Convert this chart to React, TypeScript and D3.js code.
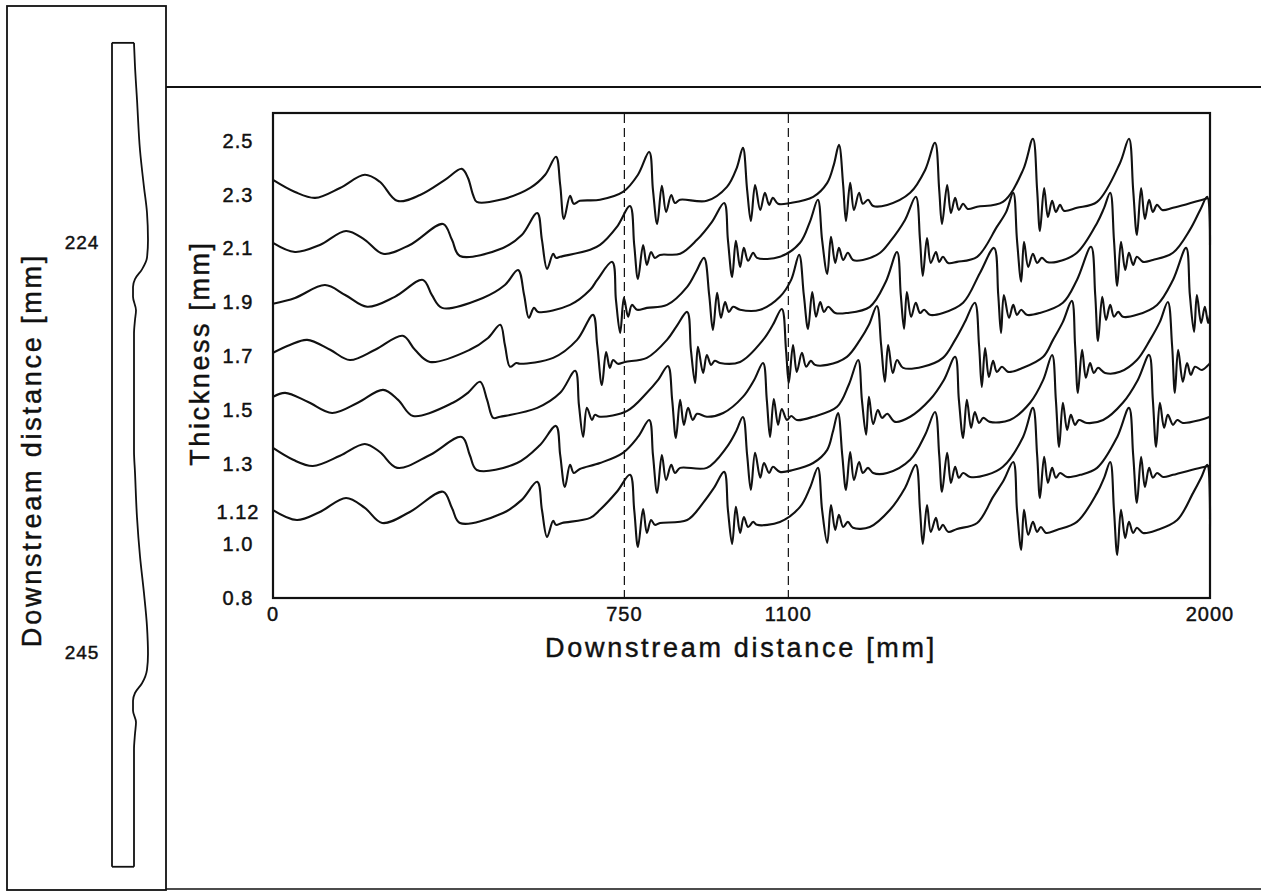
import * as d3 from "d3";

// film thickness traces (mm) along downstream distance (mm)
const Y_TICKS = [0.8, 1.0, 1.12, 1.3, 1.5, 1.7, 1.9, 2.1, 2.3, 2.5];
const Y_TICK_LABELS = ["0.8", "1.0", "1.12", "1.3", "1.5", "1.7", "1.9", "2.1", "2.3", "2.5"];
const X_TICKS = [0, 750, 1100, 2000];
const DASHED_AT = [750, 1100];

const TRACE_230: [number, number][] = [
  [0, 2.355], [47, 2.31], [90, 2.288], [143, 2.325], [196, 2.374], [228, 2.348], [265, 2.277], [314, 2.299],
  [367, 2.355], [403, 2.396], [416, 2.363], [427, 2.299], [435, 2.273], [485, 2.281], [549, 2.325], [581, 2.374],
  [604, 2.441], [613, 2.336], [621, 2.21], [634, 2.296], [642, 2.266], [655, 2.277], [698, 2.281], [747, 2.31],
  [779, 2.374], [803, 2.459], [811, 2.318], [820, 2.191], [830, 2.333], [839, 2.236], [850, 2.299], [858, 2.269],
  [869, 2.281], [926, 2.277], [969, 2.329], [990, 2.4], [1003, 2.474], [1012, 2.318], [1020, 2.202], [1029, 2.336],
  [1040, 2.243], [1050, 2.307], [1059, 2.262], [1067, 2.288], [1078, 2.266], [1104, 2.269], [1153, 2.292], [1183, 2.344],
  [1197, 2.411], [1208, 2.485], [1217, 2.336], [1223, 2.202], [1232, 2.344], [1240, 2.243], [1251, 2.307], [1259, 2.266],
  [1270, 2.281], [1281, 2.258], [1311, 2.262], [1360, 2.307], [1392, 2.392], [1413, 2.493], [1422, 2.318], [1428, 2.191],
  [1439, 2.336], [1447, 2.232], [1456, 2.288], [1464, 2.243], [1473, 2.266], [1483, 2.247], [1503, 2.255], [1558, 2.273],
  [1601, 2.392], [1622, 2.508], [1631, 2.318], [1637, 2.165], [1646, 2.325], [1654, 2.217], [1663, 2.277], [1671, 2.236],
  [1680, 2.262], [1688, 2.24], [1716, 2.251], [1759, 2.273], [1808, 2.418], [1827, 2.508], [1836, 2.318], [1844, 2.15],
  [1853, 2.325], [1861, 2.21], [1870, 2.281], [1878, 2.236], [1887, 2.262], [1898, 2.243], [1921, 2.251], [1996, 2.288],
];

const TRACE_210: [number, number][] = [
  [0, 2.121], [47, 2.087], [100, 2.113], [156, 2.165], [196, 2.132], [235, 2.08], [292, 2.113], [363, 2.191],
  [382, 2.132], [399, 2.072], [491, 2.102], [531, 2.15], [564, 2.232], [574, 2.132], [585, 2.024], [598, 2.08],
  [604, 2.065], [613, 2.069], [677, 2.095], [698, 2.113], [734, 2.18], [762, 2.258], [771, 2.113], [779, 1.987],
  [790, 2.113], [798, 2.039], [807, 2.087], [815, 2.065], [826, 2.076], [869, 2.08], [905, 2.132], [937, 2.199],
  [963, 2.269], [971, 2.132], [980, 1.994], [988, 2.128], [997, 2.031], [1005, 2.102], [1014, 2.054], [1025, 2.084],
  [1033, 2.065], [1082, 2.069], [1125, 2.121], [1146, 2.199], [1163, 2.281], [1172, 2.132], [1183, 2.005], [1191, 2.143],
  [1200, 2.046], [1208, 2.102], [1217, 2.057], [1227, 2.084], [1238, 2.057], [1259, 2.057], [1296, 2.084], [1317, 2.125],
  [1349, 2.206], [1372, 2.292], [1381, 2.132], [1387, 1.998], [1396, 2.139], [1404, 2.046], [1415, 2.087], [1422, 2.05],
  [1430, 2.069], [1441, 2.046], [1460, 2.05], [1503, 2.069], [1545, 2.18], [1565, 2.236], [1580, 2.307], [1588, 2.132],
  [1597, 1.976], [1603, 2.125], [1612, 2.031], [1622, 2.08], [1631, 2.046], [1641, 2.065], [1652, 2.05], [1673, 2.05],
  [1716, 2.084], [1759, 2.195], [1774, 2.251], [1787, 2.307], [1795, 2.132], [1802, 1.961], [1810, 2.125], [1819, 2.02],
  [1827, 2.084], [1836, 2.039], [1844, 2.069], [1857, 2.05], [1878, 2.057], [1921, 2.084], [1957, 2.169], [1979, 2.243],
  [1994, 2.292], [2000, 2.113],
];

const TRACE_190: [number, number][] = [
  [0, 1.894], [47, 1.916], [111, 1.964], [154, 1.927], [201, 1.883], [260, 1.92], [320, 1.983], [339, 1.927],
  [361, 1.879], [448, 1.916], [495, 1.964], [523, 2.02], [536, 1.927], [546, 1.842], [557, 1.879], [566, 1.864],
  [634, 1.89], [677, 1.946], [692, 1.983], [724, 2.05], [732, 1.909], [741, 1.786], [749, 1.916], [758, 1.846],
  [766, 1.89], [777, 1.872], [798, 1.879], [841, 1.89], [884, 1.957], [903, 2.013], [920, 2.065], [931, 1.927],
  [939, 1.797], [948, 1.935], [956, 1.842], [965, 1.901], [973, 1.864], [982, 1.883], [997, 1.872], [1040, 1.872],
  [1082, 1.92], [1106, 1.983], [1123, 2.076], [1133, 1.927], [1142, 1.801], [1151, 1.938], [1159, 1.846], [1168, 1.901],
  [1176, 1.864], [1185, 1.883], [1200, 1.86], [1225, 1.86], [1274, 1.883], [1308, 1.976], [1332, 2.087], [1340, 1.927],
  [1347, 1.801], [1353, 1.938], [1362, 1.846], [1372, 1.898], [1381, 1.86], [1390, 1.872], [1402, 1.853], [1430, 1.86],
  [1473, 1.898], [1509, 2.009], [1539, 2.102], [1548, 1.927], [1554, 1.786], [1560, 1.927], [1571, 1.842], [1580, 1.89],
  [1588, 1.853], [1597, 1.872], [1609, 1.853], [1637, 1.86], [1686, 1.898], [1716, 1.983], [1746, 2.106], [1755, 1.927],
  [1761, 1.756], [1770, 1.92], [1778, 1.834], [1787, 1.89], [1795, 1.846], [1804, 1.864], [1814, 1.846], [1844, 1.853],
  [1887, 1.89], [1921, 1.983], [1949, 2.102], [1957, 1.927], [1966, 1.79], [1972, 1.927], [1981, 1.823], [1989, 1.883],
  [1996, 1.823], [2000, 1.853],
];

const TRACE_170: [number, number][] = [
  [0, 1.712], [36, 1.741], [73, 1.76], [122, 1.723], [164, 1.685], [218, 1.723], [277, 1.775], [303, 1.723],
  [335, 1.678], [420, 1.723], [459, 1.767], [485, 1.816], [495, 1.741], [506, 1.66], [519, 1.674], [527, 1.671],
  [598, 1.693], [649, 1.76], [683, 1.853], [692, 1.741], [702, 1.592], [711, 1.715], [719, 1.656], [726, 1.685],
  [736, 1.671], [751, 1.678], [798, 1.693], [841, 1.76], [862, 1.812], [884, 1.864], [892, 1.723], [901, 1.6],
  [907, 1.734], [918, 1.637], [926, 1.704], [935, 1.667], [943, 1.682], [954, 1.674], [997, 1.678], [1046, 1.76],
  [1067, 1.816], [1086, 1.875], [1095, 1.723], [1101, 1.6], [1110, 1.741], [1118, 1.641], [1129, 1.712], [1138, 1.66],
  [1148, 1.682], [1157, 1.667], [1183, 1.667], [1225, 1.697], [1253, 1.76], [1272, 1.816], [1289, 1.886], [1298, 1.741],
  [1306, 1.604], [1313, 1.741], [1323, 1.637], [1332, 1.685], [1345, 1.656], [1387, 1.66], [1430, 1.693], [1456, 1.76],
  [1477, 1.827], [1498, 1.898], [1507, 1.741], [1513, 1.585], [1520, 1.73], [1528, 1.622], [1537, 1.682], [1545, 1.641],
  [1556, 1.66], [1569, 1.641], [1601, 1.656], [1644, 1.697], [1665, 1.76], [1686, 1.827], [1705, 1.905], [1712, 1.741],
  [1718, 1.563], [1727, 1.723], [1735, 1.619], [1744, 1.674], [1752, 1.637], [1761, 1.656], [1776, 1.637], [1808, 1.641],
  [1844, 1.685], [1872, 1.76], [1893, 1.827], [1910, 1.901], [1919, 1.741], [1925, 1.563], [1932, 1.723], [1942, 1.604],
  [1951, 1.674], [1959, 1.63], [1968, 1.66], [1983, 1.648], [2000, 1.674],
];

const TRACE_150: [number, number][] = [
  [0, 1.548], [26, 1.563], [75, 1.529], [126, 1.488], [181, 1.526], [235, 1.574], [267, 1.537], [299, 1.477],
  [384, 1.526], [416, 1.563], [442, 1.604], [457, 1.537], [470, 1.47], [485, 1.474], [564, 1.507], [613, 1.563],
  [645, 1.645], [653, 1.518], [662, 1.399], [670, 1.507], [681, 1.462], [687, 1.481], [698, 1.474], [756, 1.496],
  [798, 1.563], [822, 1.611], [843, 1.663], [852, 1.537], [860, 1.395], [869, 1.537], [877, 1.444], [886, 1.507],
  [896, 1.462], [905, 1.485], [926, 1.474], [961, 1.488], [1003, 1.548], [1027, 1.611], [1046, 1.674], [1054, 1.537],
  [1061, 1.399], [1069, 1.54], [1078, 1.444], [1086, 1.503], [1097, 1.462], [1106, 1.477], [1118, 1.462], [1153, 1.474],
  [1204, 1.511], [1229, 1.593], [1249, 1.685], [1257, 1.537], [1266, 1.407], [1272, 1.548], [1281, 1.447], [1291, 1.499],
  [1300, 1.47], [1311, 1.485], [1328, 1.455], [1360, 1.474], [1402, 1.537], [1432, 1.611], [1456, 1.697], [1464, 1.537],
  [1473, 1.395], [1481, 1.537], [1490, 1.433], [1498, 1.492], [1507, 1.451], [1516, 1.47], [1530, 1.455], [1573, 1.462],
  [1616, 1.526], [1644, 1.611], [1663, 1.704], [1671, 1.537], [1678, 1.362], [1686, 1.526], [1695, 1.425], [1703, 1.481],
  [1712, 1.444], [1720, 1.462], [1737, 1.451], [1772, 1.462], [1814, 1.526], [1846, 1.611], [1870, 1.704], [1878, 1.537],
  [1885, 1.362], [1893, 1.526], [1902, 1.433], [1910, 1.481], [1921, 1.444], [1930, 1.462], [1942, 1.451], [1979, 1.462],
  [2000, 1.474],
];

const TRACE_130: [number, number][] = [
  [0, 1.358], [43, 1.314], [85, 1.291], [143, 1.329], [196, 1.373], [228, 1.343], [265, 1.284], [335, 1.332],
  [403, 1.399], [420, 1.332], [435, 1.276], [521, 1.302], [570, 1.369], [604, 1.44], [613, 1.332], [623, 1.213],
  [634, 1.295], [642, 1.265], [655, 1.28], [698, 1.302], [747, 1.34], [779, 1.399], [803, 1.462], [811, 1.332],
  [820, 1.191], [830, 1.332], [839, 1.239], [850, 1.295], [858, 1.265], [869, 1.284], [926, 1.284], [969, 1.362],
  [988, 1.418], [1003, 1.473], [1012, 1.332], [1020, 1.202], [1029, 1.34], [1040, 1.247], [1048, 1.302], [1059, 1.265],
  [1067, 1.288], [1082, 1.269], [1110, 1.276], [1153, 1.302], [1183, 1.351], [1195, 1.418], [1206, 1.488], [1215, 1.332],
  [1223, 1.202], [1232, 1.343], [1240, 1.239], [1251, 1.306], [1259, 1.265], [1270, 1.284], [1281, 1.265], [1311, 1.265],
  [1360, 1.314], [1392, 1.407], [1413, 1.492], [1422, 1.332], [1428, 1.195], [1439, 1.34], [1447, 1.228], [1456, 1.288],
  [1464, 1.247], [1473, 1.265], [1488, 1.25], [1524, 1.258], [1558, 1.288], [1601, 1.399], [1622, 1.507], [1631, 1.332],
  [1637, 1.172], [1646, 1.325], [1654, 1.228], [1663, 1.284], [1671, 1.247], [1680, 1.265], [1695, 1.25], [1723, 1.258],
  [1759, 1.284], [1802, 1.399], [1827, 1.507], [1836, 1.332], [1844, 1.154], [1853, 1.325], [1861, 1.213], [1870, 1.284],
  [1878, 1.247], [1887, 1.265], [1900, 1.25], [1921, 1.258], [1996, 1.291], [2000, 1.291],
];

const TRACE_112: [number, number][] = [
  [0, 1.127], [51, 1.09], [100, 1.12], [156, 1.172], [196, 1.135], [233, 1.079], [292, 1.12], [363, 1.195],
  [382, 1.135], [399, 1.079], [491, 1.116], [531, 1.165], [564, 1.232], [574, 1.128], [585, 1.027], [598, 1.087],
  [604, 1.072], [617, 1.079], [677, 1.098], [698, 1.128], [734, 1.195], [762, 1.258], [771, 1.128], [779, 0.99],
  [790, 1.131], [798, 1.042], [807, 1.09], [815, 1.072], [826, 1.079], [884, 1.09], [918, 1.154], [941, 1.209],
  [963, 1.269], [971, 1.128], [980, 1.001], [988, 1.139], [997, 1.042], [1005, 1.101], [1014, 1.064], [1025, 1.083],
  [1033, 1.072], [1082, 1.083], [1125, 1.139], [1146, 1.209], [1163, 1.284], [1172, 1.128], [1183, 1.005], [1191, 1.146],
  [1200, 1.053], [1208, 1.109], [1217, 1.064], [1227, 1.083], [1238, 1.061], [1274, 1.064], [1317, 1.128], [1349, 1.209],
  [1372, 1.295], [1381, 1.128], [1387, 1.001], [1396, 1.146], [1404, 1.046], [1415, 1.098], [1422, 1.053], [1430, 1.072],
  [1441, 1.046], [1460, 1.057], [1503, 1.079], [1537, 1.176], [1560, 1.239], [1580, 1.306], [1588, 1.128], [1597, 0.979],
  [1603, 1.128], [1612, 1.035], [1622, 1.083], [1631, 1.046], [1639, 1.064], [1650, 1.042], [1673, 1.053], [1716, 1.083],
  [1759, 1.191], [1774, 1.247], [1787, 1.306], [1795, 1.128], [1802, 0.96], [1810, 1.128], [1819, 1.023], [1827, 1.083],
  [1836, 1.042], [1844, 1.061], [1857, 1.042], [1887, 1.053], [1930, 1.09], [1964, 1.191], [1981, 1.247], [1994, 1.295],
  [2000, 1.053],
];

const TRACES = [TRACE_230, TRACE_210, TRACE_190, TRACE_170, TRACE_150, TRACE_130, TRACE_112];

// film profile in the left panel: downstream position (mm) vs relative thickness
const PROFILE_DEPTH = [
  213.8, 215.0, 216.7, 219.3, 221.2, 222.5, 223.9, 224.8, 225.4, 225.9, 226.3, 226.8, 227.5, 228.0, 228.7, 230.4,
  234.7, 235.8, 238.1, 240.1, 242.0, 243.7, 245.1, 245.9, 246.6, 247.1, 247.5, 248.0, 248.6, 249.2, 250.0, 251.2, 256.0,
];
const PROFILE_THICK = [
  1.0, 1.045, 1.136, 1.273, 1.455, 1.591, 1.636, 1.591, 1.364, 1.045, 0.955, 0.955, 1.091, 1.045, 1.0, 1.0,
  1.0, 1.045, 1.136, 1.273, 1.455, 1.591, 1.636, 1.591, 1.364, 1.045, 0.955, 0.955, 1.091, 1.045, 1.0, 1.0, 1.0,
];
const PROFILE_MARKS = [224, 245];

const FONT = "'Liberation Sans', Arial, Helvetica, sans-serif";
const INK = "#111";
const PLOT = { left: 273, right: 1210, top: 114, bottom: 598 };

const labelStyle = {
  fontFamily: FONT,
  fill: INK,
  stroke: INK,
  strokeWidth: 0.45,
} as const;

export default function App() {
  const x = d3.scaleLinear().domain([0, 2000]).range([PLOT.left, PLOT.right]);
  const y = d3.scaleLinear().domain([0.8, 2.6]).range([PLOT.bottom, PLOT.top]);

  const line = d3
    .line<[number, number]>()
    .x((d) => x(d[0]))
    .y((d) => y(d[1]))
    .curve(d3.curveCatmullRom.alpha(0.5));

  // left panel scales
  const depth = d3.scaleLinear().domain([224, 245]).range([242, 652]);
  const thick = d3.scaleLinear().domain([0, 1]).range([112, 134]);
  const profilePts = PROFILE_DEPTH.map((dp, i) => [PROFILE_THICK[i], dp] as [number, number]);
  const profileLine = d3
    .line<[number, number]>()
    .x((d) => thick(d[0]))
    .y((d) => depth(d[1]))
    .curve(d3.curveMonotoneY);
  const colTop = depth(PROFILE_DEPTH[0]);
  const colBot = depth(PROFILE_DEPTH[PROFILE_DEPTH.length - 1]);

  return (
    <svg
      width={1261}
      height={891}
      style={{ position: "absolute", left: 0, top: 0, background: "#fff" }}
      fontFamily={FONT}
    >
      {/* page frames */}
      <rect x={7} y={6} width={159} height={884} fill="none" stroke={INK} strokeWidth={1.8} />
      <line x1={166} x2={1261} y1={87} y2={87} stroke={INK} strokeWidth={2.2} />
      <line x1={166} x2={1261} y1={889} y2={889} stroke={INK} strokeWidth={1.6} />

      {/* left panel: film column */}
      <line x1={thick(0)} x2={thick(0)} y1={colTop} y2={colBot} stroke={INK} strokeWidth={1.8} />
      <line x1={thick(0)} x2={thick(1)} y1={colTop} y2={colTop} stroke={INK} strokeWidth={1.8} />
      <line x1={thick(0)} x2={thick(1)} y1={colBot} y2={colBot} stroke={INK} strokeWidth={1.8} />
      <path d={profileLine(profilePts) ?? ""} fill="none" stroke={INK} strokeWidth={1.8} />
      {PROFILE_MARKS.map((m) => (
        <text key={m} x={82} y={depth(m)} textAnchor="middle" dominantBaseline="central" fontSize={19} letterSpacing={1} style={labelStyle}>
          {m}
        </text>
      ))}
      <text
        transform={`translate(32, 450) rotate(-90)`}
        textAnchor="middle"
        dominantBaseline="central"
        fontSize={27}
        letterSpacing={2.8}
        style={labelStyle}
      >
        Downstream distance [mm]
      </text>

      {/* main plot */}
      <rect
        x={PLOT.left}
        y={PLOT.top - 1}
        width={PLOT.right - PLOT.left}
        height={PLOT.bottom - PLOT.top + 1}
        fill="none"
        stroke={INK}
        strokeWidth={2.2}
      />
      {DASHED_AT.map((v) => (
        <line
          key={v}
          x1={x(v)}
          x2={x(v)}
          y1={PLOT.top}
          y2={PLOT.bottom}
          stroke={INK}
          strokeWidth={1.2}
          strokeDasharray="9,5"
        />
      ))}
      {TRACES.map((t, i) => (
        <path key={i} d={line(t) ?? ""} fill="none" stroke={INK} strokeWidth={2.1} strokeLinejoin="round" />
      ))}

      {Y_TICKS.map((v, i) => (
        <text key={v} x={238} y={y(v)} textAnchor="middle" dominantBaseline="central" fontSize={20} letterSpacing={1} style={labelStyle}>
          {Y_TICK_LABELS[i]}
        </text>
      ))}
      {X_TICKS.map((v) => (
        <text key={v} x={x(v)} y={614} textAnchor="middle" dominantBaseline="central" fontSize={20} letterSpacing={1} style={labelStyle}>
          {v}
        </text>
      ))}
      <text
        transform={`translate(200, 353) rotate(-90)`}
        textAnchor="middle"
        dominantBaseline="central"
        fontSize={27}
        letterSpacing={2.6}
        style={labelStyle}
      >
        Thickness [mm]
      </text>
      <text x={741} y={648} textAnchor="middle" dominantBaseline="central" fontSize={27} letterSpacing={2.7} style={labelStyle}>
        Downstream distance [mm]
      </text>
    </svg>
  );
}
